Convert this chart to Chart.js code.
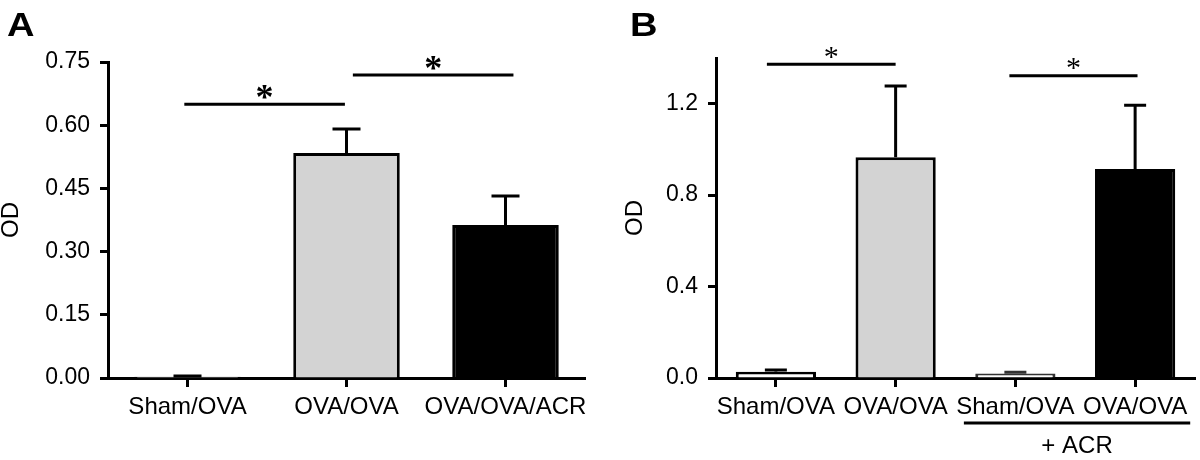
<!DOCTYPE html>
<html>
<head>
<meta charset="utf-8">
<script src="https://cdn.jsdelivr.net/npm/chart.js@4.4.1/dist/chart.umd.min.js"></script>
<style>
  html, body { margin: 0; padding: 0; background: #fff; }
  #page { position: relative; width: 1200px; height: 460px; overflow: hidden; font-family: 'Liberation Sans', Arial, sans-serif; }
  .panel { position: absolute; top: 0; width: 600px; height: 460px; }
  .letter { position: absolute; top: 7px; font-weight: bold; font-size: 34px; line-height: 1; color: #000; transform: scaleX(1.12); transform-origin: left top; }
</style>
</head>
<body>
<div id="page">
  <div class="panel" style="left:0"><canvas id="chartA"></canvas></div>
  <div class="panel" style="left:600px"><canvas id="chartB"></canvas></div>
  <div class="letter" style="left:7px">A</div>
  <div class="letter" style="left:630px">B</div>
</div>
<script>
// ---- Panel A ----
const categoriesA = ['Sham/OVA', 'OVA/OVA', 'OVA/OVA/ACR'];
const valuesA = [0.003, 0.534, 0.363];
const errorsA = [0.002, 0.057, 0.069];
const colorsA = ['#ffffff', '#d3d3d3', '#000000'];
const ticksA = [0, 0.15, 0.30, 0.45, 0.60, 0.75];
// significance bars : [from category, to category, height]
const sigA = [[-0.02, 0.99, 0.650], [1.04, 2.05, 0.719]];

// ---- Panel B ----
const categoriesB = ['Sham/OVA', 'OVA/OVA', 'Sham/OVA', 'OVA/OVA'];
const valuesB = [0.0275, 0.966, 0.020, 0.914];
const errorsB = [0.0075, 0.311, 0.005, 0.279];
const colorsB = ['#ffffff', '#d3d3d3', '#ffffff', '#000000'];
const bordersB = ['#000000', '#000000', '#333333', '#000000'];
const ticksB = [0, 0.4, 0.8, 1.2];
const sigB = [[-0.075, 1.0, 1.373], [1.95, 3.02, 1.322]];
// bracket under the last two groups
const groupB = { label: '+ ACR', from: 1.57, to: 3.46 };

const FONT = "'Liberation Sans', Arial, sans-serif";

// Barres d'erreur, traits de significativité et étoiles
const extrasPlugin = {
  id: 'extras',
  afterDatasetsDraw(chart, args, opts) {
    const ctx = chart.ctx;
    const xs = chart.scales.x;
    const ys = chart.scales.y;
    const meta = chart.getDatasetMeta(0);
    const values = chart.data.datasets[0].data;
    ctx.save();
    ctx.lineWidth = 3;
    ctx.lineCap = 'butt';

    // error bars, upper half only
    opts.errors.forEach(function (e, i) {
      const bar = meta.data[i];
      const top = ys.getPixelForValue(values[i] + e);
      ctx.strokeStyle = opts.errColors ? opts.errColors[i] : '#000';
      ctx.beginPath();
      ctx.moveTo(bar.x, bar.y);
      ctx.lineTo(bar.x, top);
      ctx.moveTo(bar.x - opts.cap / 2, top);
      ctx.lineTo(bar.x + opts.cap / 2, top);
      ctx.stroke();
    });

    // significance lines with star
    ctx.strokeStyle = '#000';
    ctx.fillStyle = '#000';
    ctx.font = opts.starFont;
    const m = ctx.measureText('*');
    opts.sig.forEach(function (s) {
      const x1 = xs.getPixelForValue(s[0]);
      const x2 = xs.getPixelForValue(s[1]);
      const y = ys.getPixelForValue(s[2]);
      ctx.beginPath();
      ctx.moveTo(x1, y);
      ctx.lineTo(x2, y);
      ctx.stroke();
      const cx = (x1 + x2) / 2;
      const cy = y - opts.starGap;
      ctx.textAlign = 'center';
      ctx.textBaseline = 'alphabetic';
      ctx.fillText('*', cx, cy + (m.actualBoundingBoxAscent - m.actualBoundingBoxDescent) / 2);
    });

    // group bracket below the labels
    if (opts.group) {
      const g = opts.group;
      const x1 = xs.getPixelForValue(g.from);
      const x2 = xs.getPixelForValue(g.to);
      const yb = chart.chartArea.bottom + 45;
      ctx.beginPath();
      ctx.moveTo(x1, yb);
      ctx.lineTo(x2, yb);
      ctx.stroke();
      ctx.font = '24px ' + FONT;
      ctx.textAlign = 'center';
      ctx.textBaseline = 'alphabetic';
      ctx.fillText(g.label, (x1 + x2) / 2, chart.chartArea.bottom + 75);
    }
    ctx.restore();
  }
};

function buildBarChart(id, cfg) {
  return new Chart(document.getElementById(id).getContext('2d'), {
    type: 'bar',
    data: {
      labels: cfg.categories,
      datasets: [{
        data: cfg.values,
        backgroundColor: cfg.colors,
        borderColor: cfg.borders,
        borderWidth: 3,
        borderSkipped: 'start',
        barPercentage: 0.67,
        categoryPercentage: 1.0
      }]
    },
    options: {
      responsive: true,
      maintainAspectRatio: false,
      animation: false,
      layout: { padding: cfg.padding },
      plugins: {
        legend: { display: false },
        tooltip: { enabled: false },
        extras: {
          errors: cfg.errors,
          errColors: cfg.borders,
          cap: cfg.cap,
          sig: cfg.sig,
          starFont: cfg.starFont,
          starGap: 12,
          group: cfg.group
        }
      },
      scales: {
        x: {
          offset: true,
          grid: { drawOnChartArea: false, drawTicks: true, tickLength: 9, tickWidth: 3, tickColor: '#000', offset: false },
          border: { display: true, color: '#000', width: 3 },
          ticks: { color: '#000', font: { family: FONT, size: 24 }, padding: 6, autoSkip: false, maxRotation: 0, minRotation: 0 },
          afterFit: function (s) { s.height = 82; }
        },
        y: {
          min: 0,
          max: cfg.max,
          afterBuildTicks: function (s) { s.ticks = cfg.ticks.map(function (v) { return { value: v }; }); },
          grid: { drawOnChartArea: false, drawTicks: true, tickLength: 8, tickWidth: 3, tickColor: '#000' },
          border: { display: true, color: '#000', width: 3 },
          ticks: {
            color: '#000',
            font: { family: FONT, size: 23 },
            padding: 10,
            callback: function (v) { return Number(v).toFixed(cfg.decimals); }
          },
          title: { display: true, text: 'OD', color: '#000', font: { family: FONT, size: 24 }, padding: { top: cfg.titlePad, bottom: 0 } },
          afterFit: function (s) { s.width = cfg.axisWidth; }
        }
      }
    },
    plugins: [extrasPlugin]
  });
}

buildBarChart('chartA', {
  categories: categoriesA, values: valuesA, errors: errorsA, colors: colorsA,
  borders: ['#000000', '#000000', '#000000'],
  ticks: ticksA, max: 0.75, decimals: 2, sig: sigA,
  padding: { top: 62, right: 15, bottom: 0, left: 0 },
  axisWidth: 108, titlePad: -3, cap: 28,
  starFont: "bold 36px 'Liberation Serif', serif"
});

buildBarChart('chartB', {
  categories: categoriesB, values: valuesB, errors: errorsB, colors: colorsB,
  borders: bordersB,
  ticks: ticksB, max: 1.4, decimals: 1, sig: sigB,
  padding: { top: 58, right: 5, bottom: 0, left: 0 },
  axisWidth: 116, titlePad: 21, cap: 22,
  starFont: "30px 'Liberation Serif', serif",
  group: groupB
});
</script>
</body>
</html>
